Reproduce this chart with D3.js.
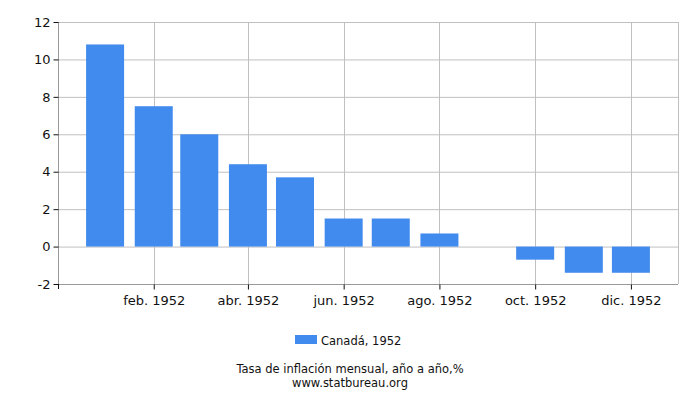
<!DOCTYPE html>
<html>
<head>
<meta charset="utf-8">
<script src="https://cdn.jsdelivr.net/npm/d3@7"></script>
<style>
  body { margin: 0; background: #fff; }
  text { font-family: "DejaVu Sans", sans-serif; fill: #111; }
</style>
</head>
<body>
<script>
// ---------------------------- DATA ----------------------------//
const months = ["1952-01", "1952-02", "1952-03", "1952-04", "1952-05", "1952-06",
                "1952-07", "1952-08", "1952-09", "1952-10", "1952-11", "1952-12"];
const values = [10.8, 7.5, 6.0, 4.4, 3.7, 1.5, 1.5, 0.7, null, -0.7, -1.4, -1.4];
const xTickMonths = ["1952-02", "1952-04", "1952-06", "1952-08", "1952-10", "1952-12"];
const xTickLabels = ["feb. 1952", "abr. 1952", "jun. 1952", "ago. 1952", "oct. 1952", "dic. 1952"];
const yTicks = [-2, 0, 2, 4, 6, 8, 10, 12];
const seriesName = "Canadá, 1952";
const title = "Tasa de inflación mensual, año a año,%";
const source = "www.statbureau.org";

// ------------------------- PREPARATION -------------------------//
const width = 700, height = 400;
const margin = { top: 22, right: 22, bottom: 116, left: 58 };
const parse = d3.timeParse("%Y-%m");

const svg = d3.select("body").append("svg")
    .attr("width", width)
    .attr("height", height);

const xScale = d3.scaleTime()
    .domain([new Date(1951, 11, 2), new Date(1952, 11, 31)])
    .range([margin.left, width - margin.right]);
const yScale = d3.scaleLinear()
    .domain([-2, 12])
    .range([height - margin.bottom, margin.top]);

const barW = 38;

// --------------------------- GRID -----------------------------//
svg.append("g")
    .selectAll("line")
    .data(yTicks)
    .enter().append("line")
    .attr("x1", margin.left).attr("x2", width - margin.right)
    .attr("y1", d => yScale(d) + 0.5).attr("y2", d => yScale(d) + 0.5)
    .attr("stroke", "#c0c0c0");

svg.append("g")
    .selectAll("line")
    .data(xTickMonths)
    .enter().append("line")
    .attr("x1", d => Math.round(xScale(parse(d))) + 0.5)
    .attr("x2", d => Math.round(xScale(parse(d))) + 0.5)
    .attr("y1", margin.top).attr("y2", height - margin.bottom)
    .attr("stroke", "#c0c0c0");

// right border
svg.append("line")
    .attr("x1", width - margin.right + 0.5).attr("x2", width - margin.right + 0.5)
    .attr("y1", margin.top).attr("y2", height - margin.bottom)
    .attr("stroke", "#c0c0c0");

// --------------------------- BARS -----------------------------//
svg.append("g")
    .selectAll("rect")
    .data(months.map((m, i) => ({ date: parse(m), value: values[i] })).filter(d => d.value !== null))
    .enter().append("rect")
    .attr("x", d => xScale(d.date) - barW / 2)
    .attr("width", barW)
    .attr("y", d => yScale(Math.max(0, d.value)))
    .attr("height", d => Math.abs(yScale(d.value) - yScale(0)))
    .attr("fill", "#428bee");

// --------------------------- AXES -----------------------------//
const yaxis = d3.axisLeft(yScale)
    .tickValues(yTicks)
    .tickFormat(d => String(d))
    .tickSize(5)
    .tickPadding(3);
const gy = svg.append("g")
    .attr("transform", "translate(" + (margin.left + 0.5) + ",0)")
    .call(yaxis);
gy.select(".domain").attr("stroke", "#999").attr("d", "M0," + margin.top + "V" + (height - margin.bottom));
gy.selectAll(".tick line").attr("stroke", "#111");
gy.selectAll("text").style("font-size", "13px");

const xaxis = d3.axisBottom(xScale)
    .tickValues(xTickMonths.map(parse))
    .tickFormat((d, i) => xTickLabels[i])
    .tickSize(5)
    .tickPadding(6);
const gx = svg.append("g")
    .attr("transform", "translate(0," + (height - margin.bottom + 0.5) + ")")
    .call(xaxis);
gx.select(".domain").attr("stroke", "#999").attr("d", "M" + margin.left + ",0H" + (width - margin.right));
gx.selectAll(".tick line").attr("stroke", "#111");
gx.selectAll("text").style("font-size", "13px");

// corner tick
svg.append("line")
    .attr("x1", margin.left + 0.5).attr("x2", margin.left + 0.5)
    .attr("y1", height - margin.bottom).attr("y2", height - margin.bottom + 5)
    .attr("stroke", "#111");

// -------------------------- LEGEND ----------------------------//
const legend = svg.append("g").attr("transform", "translate(295,335)");
legend.append("rect").attr("width", 22).attr("height", 9).attr("fill", "#428bee");
legend.append("text").attr("x", 26).attr("y", 10).style("font-size", "11.5px").text(seriesName);

svg.append("text")
    .attr("x", width / 2).attr("y", 373)
    .attr("text-anchor", "middle")
    .style("font-size", "11.5px")
    .text(title);
svg.append("text")
    .attr("x", width / 2).attr("y", 387)
    .attr("text-anchor", "middle")
    .style("font-size", "11.5px")
    .text(source);
</script>
</body>
</html>
